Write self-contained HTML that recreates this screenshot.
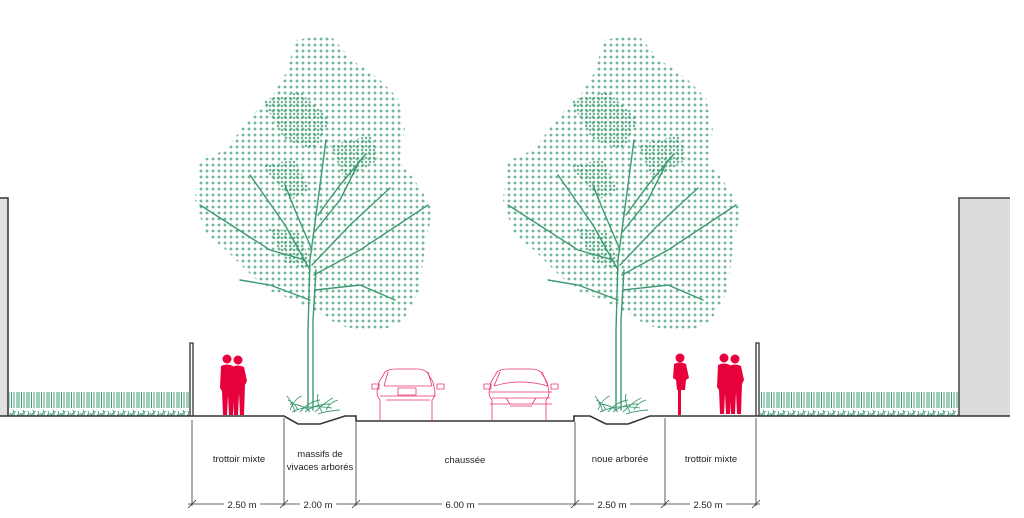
<!DOCTYPE html>
<html><head><meta charset="utf-8"><style>
html,body{margin:0;padding:0;background:#fff;width:1024px;height:518px;overflow:hidden}
svg{display:block}
text{font-family:"Liberation Sans",sans-serif;font-size:9.5px;fill:#222}
</style></head><body>
<svg width="1024" height="518" viewBox="0 0 1024 518" xmlns="http://www.w3.org/2000/svg">
<defs>
<pattern id="dots" width="6" height="6" patternUnits="userSpaceOnUse">
<path d="M3 1.5v3M1.5 3h3" stroke="#3d9a72" stroke-width="0.9"/>
</pattern>
<pattern id="dense" width="4" height="4" patternUnits="userSpaceOnUse">
<path d="M2 0.8v2.4M0.8 2h2.4" stroke="#3d9a72" stroke-width="0.9"/>
</pattern>
<pattern id="grass" width="10" height="24" patternUnits="userSpaceOnUse">
<path d="M1.5 24V8M4 24V5M7 24V9M9 24V6M1.5 8l-1-3M1.5 8l1.5-3M4 5l-1-3M4 5l1.5-2M7 9l1-3M9 6l-1-3" stroke="#3f9c74" stroke-width="1" fill="none"/>
</pattern>
<g id="tree">
<path d="M295,40 L330,35 L352,60 L378,78 L398,98 L405,130 L400,160 L420,188 L433,210 L425,245 L420,290 L402,322 L378,332 L340,326 L318,312 L298,302 L268,290 L248,272 L228,252 L205,232 L195,200 L198,162 L225,150 L255,112 L272,96 L288,70 Z" fill="url(#dots)"/>
<path d="M262,100 L300,92 L330,120 L315,150 L285,140 Z" fill="url(#dense)"/>
<path d="M262,165 L295,160 L310,190 L290,200 Z" fill="url(#dense)"/>
<path d="M330,145 L372,135 L378,160 L345,180 Z" fill="url(#dense)"/>
<path d="M268,228 L300,232 L312,270 L285,262 Z" fill="url(#dense)"/>
<g stroke="#3d9a72" stroke-width="1.4" fill="none" stroke-linecap="round">
<path d="M308,410 L308,330 L310,260 L318,200 L326,140"/>
<path d="M313,410 L313,320 L316,270"/>
<path d="M310,270 L285,225 L250,175"/>
<path d="M305,260 L270,250 L200,205"/>
<path d="M312,265 L350,225 L390,188"/>
<path d="M314,275 L360,250 L428,205"/>
<path d="M310,300 L270,285 L240,280"/>
<path d="M315,290 L360,285 L395,300"/>
<path d="M312,250 L295,210 L285,185"/>
<path d="M316,230 L340,200 L360,160"/>
<path d="M318,215 L340,185 L365,155"/>
</g>
<g stroke="#3d9a72" stroke-width="0.9" fill="none">
<path d="M290,410 q5,-12 12,-14 M295,412 q-3,-10 -8,-16 M300,412 q8,-10 20,-12 M305,412 q10,-8 25,-8 M315,412 q10,-10 18,-14 M322,412 q-6,-10 -4,-18 M292,412 q15,-8 40,-4 M310,412 q-8,-8 -20,-8 M318,414 q8,-3 22,-4 M298,410 q-4,-8 -10,-10 M326,410 q4,-8 12,-10"/>
</g>
</g>
<g id="pair" fill="#e8003d">
<circle cx="9" cy="7" r="4.5"/><circle cx="20" cy="8" r="4.5"/>
<path d="M3,14 q6,-3 12,0 l2,10 l-1,15 l-1,24 h-4 l-1,-20 l-1,20 h-4 l-1,-24 l-2,-3 z"/>
<path d="M14,15 q6,-3 12,0 l3,14 l-2,4 l-1,30 h-4 l-1,-22 l-1,22 h-4 l-1,-26 z"/>
</g>
</defs>

<rect x="0" y="198" width="8" height="218" fill="#e2e2e2"/>
<path d="M0,198 H8 V416" stroke="#333" stroke-width="1.5" fill="none"/>
<rect x="959" y="198" width="51" height="218" fill="#dcdcdc"/>
<path d="M959,416 V198 H1010" stroke="#444" stroke-width="1.5" fill="none"/>
<rect x="9" y="392" width="180" height="24" fill="url(#grass)"/>
<rect x="760" y="392" width="198" height="24" fill="url(#grass)"/>
<path d="M190,416 V343 H193 V416" stroke="#333" stroke-width="1.3" fill="none"/>
<path d="M756,416 V343 H759 V416" stroke="#333" stroke-width="1.3" fill="none"/>

<use href="#tree"/>
<use href="#tree" transform="translate(308,0)"/>

<path d="M0,416 H284 L298,424 L320,424 L345,416 H356 V421 H574 V416 H590 L606,424 L628,424 L650,416 H1010" stroke="#333" stroke-width="1.6" fill="none"/>

<use href="#pair" transform="translate(218,352)"/>
<use href="#pair" transform="translate(715,351)"/>
<g fill="#e8003d">
<circle cx="680" cy="358" r="4.5"/>
<path d="M674,364 q6,-3 12,0 l3,14 l-3,2 l-1,10 h-8 l-1,-10 l-3,-2 z"/>
<rect x="678" y="385" width="3" height="30"/>
</g>

<g stroke="#e8336a" stroke-width="0.8" fill="none">
<path d="M380,421 V400 q-3,-3 -3,-8 l2,-10 l6,-10 q4,-3 10,-3 h22 q6,0 10,3 l6,10 l2,10 q0,5 -3,8 V421"/>
<path d="M388,372 L384,386 M428,372 L432,386 M384,386 h48 M380,396 h56 M398,388 h18 v7 h-18 z M386,400 h44"/>
<path d="M372,384 h7 v5 h-7 z M437,384 h7 v5 h-7 z"/>
<path d="M492,421 V400 q-3,-3 -3,-8 l2,-10 l6,-10 q4,-3 10,-3 h24 q6,0 10,3 l6,10 l2,10 q0,5 -3,8 V421"/>
<path d="M500,372 L494,386 M542,372 L548,386 M494,386 q26,-8 54,0 M490,392 h62 M492,398 h58 M490,404 h62 M506,398 l4,6 M536,398 l-4,6 M510,406 h22"/>
<path d="M484,384 h7 v5 h-7 z M551,384 h7 v5 h-7 z"/>
</g>

<g stroke="#333" stroke-width="0.8" fill="none">
<path d="M192,420 V506 M284,418 V506 M356,422 V506 M575,422 V506 M665,418 V506 M756,418 V506"/>
<path d="M188,504 H224 M260,504 H284 M284,504 H300 M336,504 H356 M356,504 H442 M478,504 H575 M575,504 H594 M630,504 H665 M665,504 H690 M726,504 H760"/>
<path d="M188,508 l8,-8 M280,508 l8,-8 M352,508 l8,-8 M571,508 l8,-8 M661,508 l8,-8 M752,508 l8,-8"/>
</g>
<g text-anchor="middle">
<text x="239" y="462">trottoir mixte</text>
<text x="320" y="457">massifs de</text>
<text x="320" y="470">vivaces arborés</text>
<text x="465" y="463">chaussée</text>
<text x="620" y="462">noue arborée</text>
<text x="711" y="462">trottoir mixte</text>
<text x="242" y="508">2.50 m</text>
<text x="318" y="508">2.00 m</text>
<text x="460" y="508">6.00 m</text>
<text x="612" y="508">2.50 m</text>
<text x="708" y="508">2.50 m</text>
</g>
</svg>
</body></html>
